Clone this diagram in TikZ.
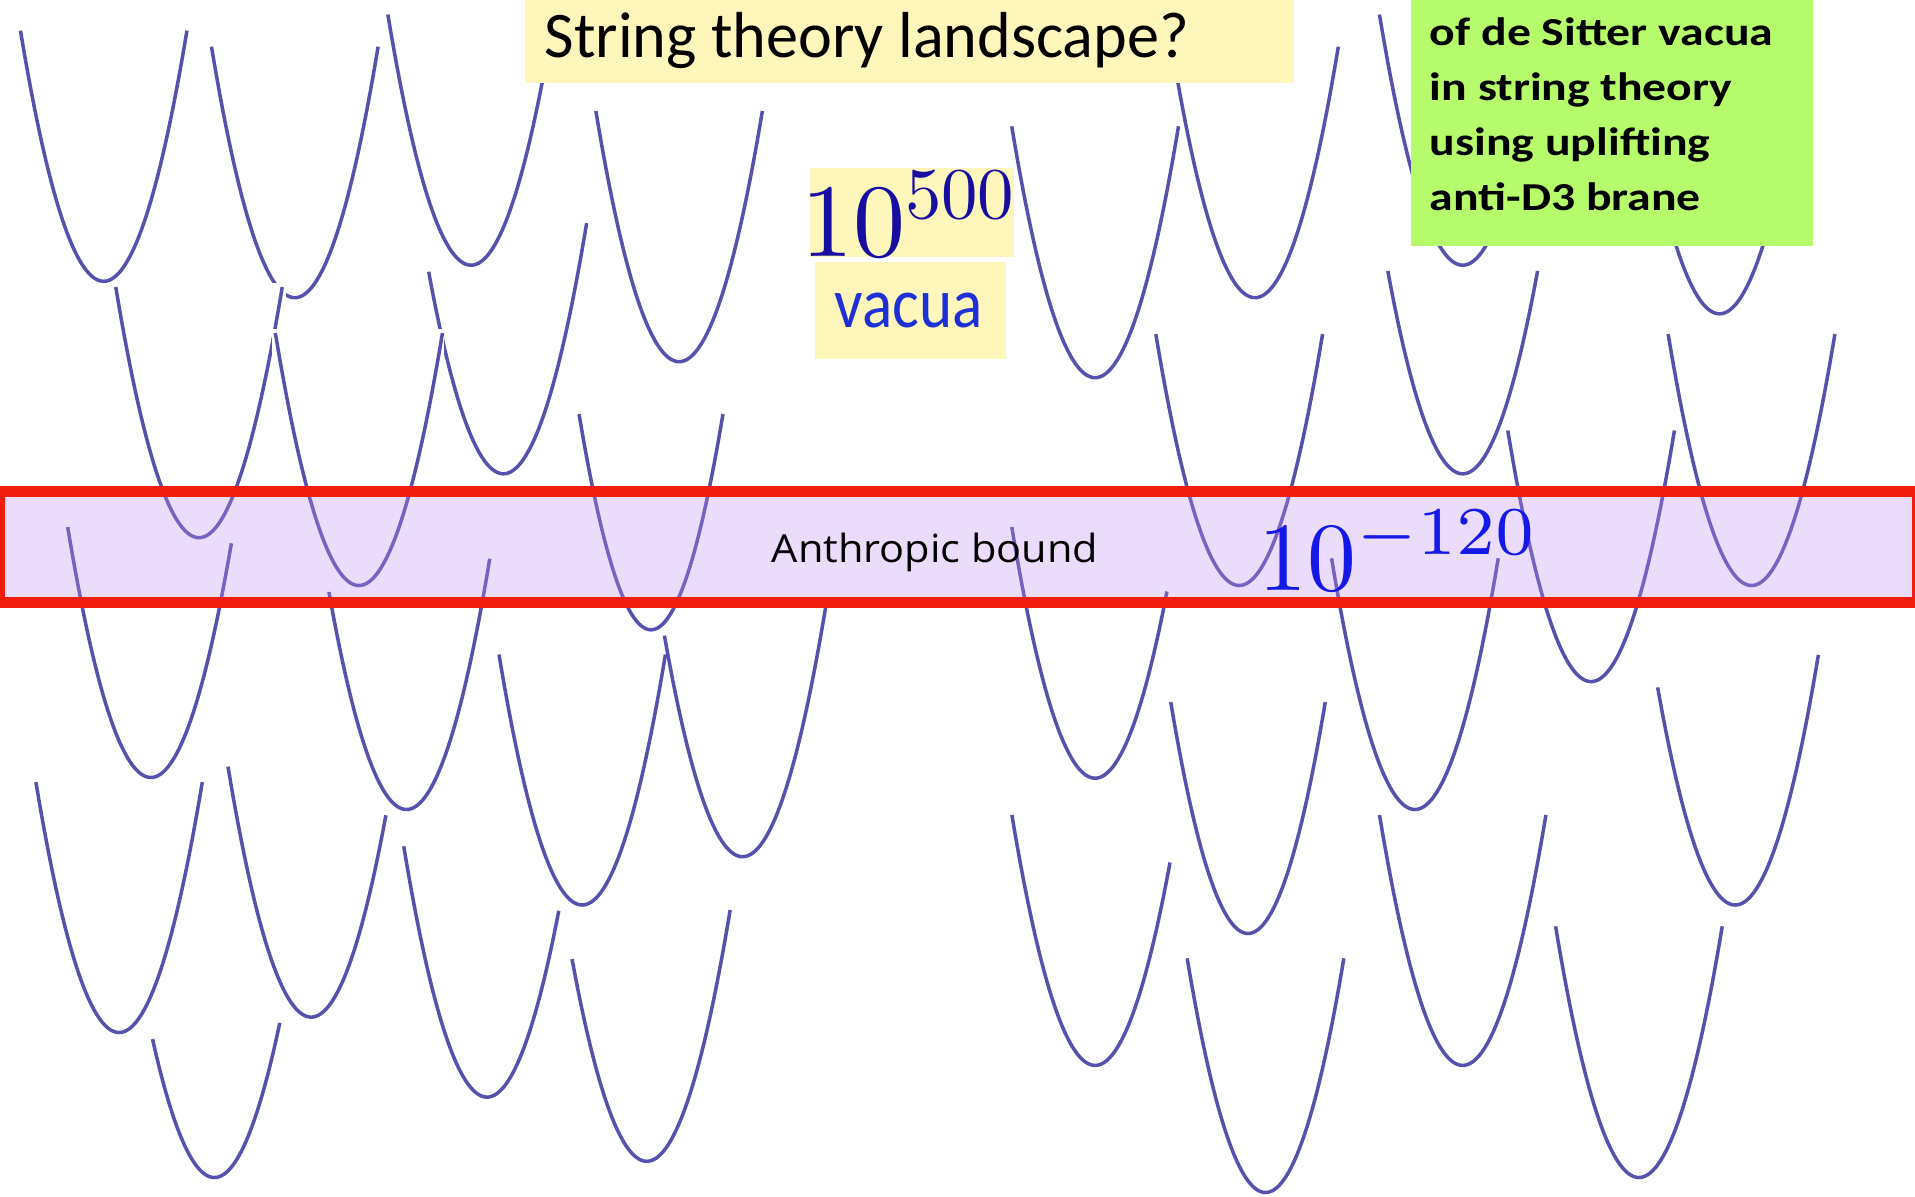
\documentclass[tikz,border=0pt]{standalone}
\usepackage{fontspec}
\usepackage{graphicx}
\newfontfamily\calfont{Carlito}
\newfontfamily\osfont{Open Sans}
\definecolor{parac}{RGB}{84,82,172}
\definecolor{ybg}{RGB}{255,246,188}
\definecolor{gbg}{RGB}{181,251,108}
\definecolor{bandc}{RGB}{195,140,248}
\definecolor{redc}{RGB}{240,28,12}
\definecolor{navyc}{RGB}{22,14,160}
\definecolor{bluec}{RGB}{28,48,214}
\definecolor{brightc}{RGB}{20,25,232}
\tikzset{para/.style={draw=parac,line width=0.35mm,line join=round},
  mask/.style={fill=white}}
% vertex x, vertex y, shape constant, top of left arm, top of right arm
\newcommand{\vac}[5]{%
 \pgfmathsetmacro\vdl{-sqrt(#3*(#2-#4))}%
 \pgfmathsetmacro\vdr{sqrt(#3*(#2-#5))}%
 \draw[para] plot[domain=\vdl:\vdr,samples=61,variable=\t] ({#1+\t},{#2-\t*\t/#3});}
\begin{document}
\begin{tikzpicture}[x=0.1mm,y=-0.1mm]
\fill[white] (0,0) rectangle (1915,1196);
\useasboundingbox (0,0) rectangle (1915,1196);
% left cluster
\vac{103.7}{281.3}{27.65}{30.6}{30.6}
\vac{294.8}{297.7}{27.65}{46.7}{46.7}
\vac{471.1}{265.2}{27.65}{14.5}{14.5}
\vac{679.1}{361.7}{27.65}{111}{111}
\fill[mask] (112,282.5) rectangle (285.5,541);
\vac{199}{537.7}{27.65}{287}{287}
\vac{503.4}{473.8}{27.65}{271.7}{223.1}
\fill[mask] (272,329) rectangle (444,589);
\vac{358.9}{585.5}{27.65}{333}{333}
\vac{651}{629.8}{24.0}{414.1}{414.1}
\vac{150.9}{777.5}{27.65}{527}{543.3}
\vac{406.5}{809.5}{27.65}{592}{558.7}
\vac{582.2}{905}{27.65}{654.5}{654.5}
\vac{742.6}{856.7}{27.65}{635.6}{603}
\vac{119.1}{1032.5}{27.65}{782.1}{782.1}
\vac{311.2}{1017.1}{27.65}{766.6}{815.3}
\vac{487}{1097.1}{27.65}{846.3}{910.8}
\vac{646.8}{1161.3}{27.65}{959}{910}
\vac{214.4}{1177.5}{27.65}{1039.1}{1022.9}
% right cluster
\vac{1095.1}{377.7}{27.65}{126.3}{126.3}
\vac{1255}{297.7}{27.65}{46.7}{46.7}
\vac{1462.7}{265.2}{27.65}{14.5}{14.5}
\vac{1719.5}{313.8}{27.65}{63}{63}
\vac{1462.7}{473.8}{27.65}{271}{271}
\vac{1239.2}{585.5}{27.65}{334.1}{334.1}
\vac{1751.5}{585.5}{27.65}{334.1}{334.1}
\vac{1591.1}{681.6}{27.65}{430.5}{430.5}
\vac{1095.1}{778.2}{27.65}{527}{591.5}
\vac{1414.9}{809.5}{27.65}{558.3}{558.3}
\vac{1248}{933.5}{25.8}{702.1}{702.1}
\vac{1735.2}{905}{27.65}{687.4}{654.9}
\vac{1095.1}{1065.4}{27.65}{815}{862.5}
\vac{1265.5}{1192.5}{26.2}{958.3}{958.3}
\vac{1462.7}{1065.4}{27.65}{815}{815}
\vac{1638.9}{1177.5}{27.65}{926.3}{926.3}
% anthropic band
\fill[bandc,fill opacity=0.3] (0,491) rectangle (1915,602.5);
\draw[redc,line width=1.1mm] (-0.6,491) rectangle (1917.5,602.5);
\node[anchor=base west,inner sep=0,xscale=1.07,font=\osfont\fontsize{11.04}{13}\selectfont] (anth) at (771,562.7) {Anthropic bound};
\node[anchor=base west,inner sep=0,scale=2.78,text=brightc] (n120) at (1257,590) {$10^{-120}$};
% title
\fill[ybg] (525,0) rectangle (1293.5,83.3);
\node[anchor=base west,inner sep=0,xscale=0.987,font=\calfont\fontsize{18.5}{22}\selectfont] (title) at (544,57.3) {String theory landscape?};
% green box
\fill[gbg] (1410.6,0) rectangle (1812.6,245.5);
\begin{scope}[every node/.style={anchor=base west,inner sep=0,xscale=1.205,font=\calfont\bfseries\fontsize{11.27}{15}\selectfont}]
\node (g1) at (1429,45) {of de Sitter vacua};
\node (g2) at (1429,100.5) {in string theory};
\node (g3) at (1429,155.8) {using uplifting};
\node (g4) at (1429,210.7) {anti-D3 brane};
\end{scope}
% 10^500 vacua
\fill[ybg] (810,168) rectangle (1014,257.3);
\fill[ybg] (815,262) rectangle (1005.7,359);
\node[anchor=base west,inner sep=0,scale=2.96,text=navyc] (n500) at (799,256) {$10^{\scalebox{0.7}{$500$}}$};
\node[anchor=base west,inner sep=0,xscale=0.89,font=\calfont\fontsize{20.2}{24}\selectfont,text=bluec] (vac) at (834,327.3) {vacua};
\end{tikzpicture}
\end{document}
